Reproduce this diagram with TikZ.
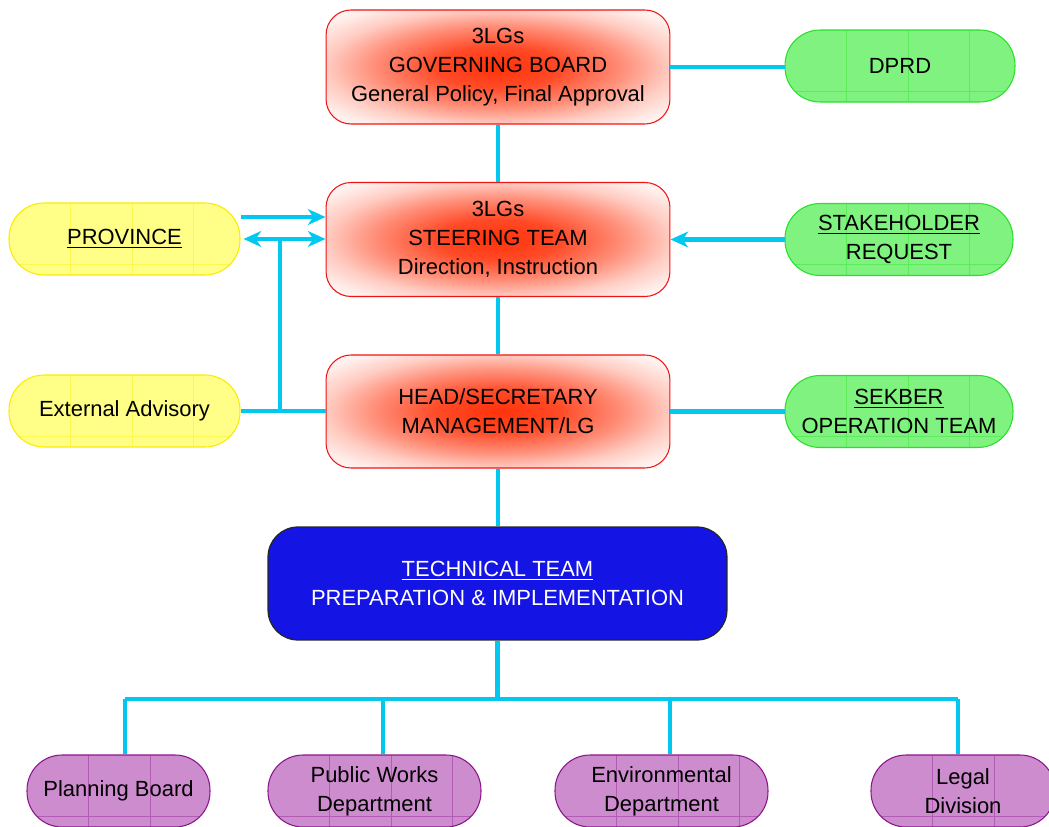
\documentclass[tikz,border=0pt]{standalone}
\usepackage{fontspec}
\setmainfont{Liberation Sans}
\usetikzlibrary{arrows.meta}

% palette
\definecolor{glowc}{RGB}{255,50,10}
\definecolor{redline}{RGB}{240,20,20}
\definecolor{linkc}{RGB}{0,200,240}
\definecolor{ybd}{RGB}{250,235,0}
\definecolor{yfill}{RGB}{255,255,135}
\definecolor{gbd}{RGB}{40,225,40}
\definecolor{gfill}{RGB}{128,242,128}
\definecolor{pbd}{RGB}{140,20,140}
\definecolor{pfill}{RGB}{205,140,205}
\definecolor{bfill}{RGB}{20,20,228}

% soft red glow for the management boxes
\pgfdeclareradialshading{glow}{\pgfpoint{0bp}{0bp}}{%
  color(0bp)=(glowc); color(9bp)=(glowc!88!white); color(18bp)=(glowc!55!white);
  color(25bp)=(glowc!25!white); color(31bp)=(glowc!8!white); color(37bp)=(white); color(50bp)=(white)}

\tikzset{
  redbox/.style={draw=redline, line width=0.6pt, shade, shading=glow,
    rounded corners=0.5cm, minimum width=6.88cm, minimum height=2.28cm,
    align=center, inner sep=0pt},
  pill/.style 2 args={draw=#1, fill=#2, line width=0.6pt, rounded corners=0.7cm,
    minimum height=1.44cm, align=center, inner sep=0pt,
    path picture={
      \foreach \k in {1,2,3,4}{
        \draw[#1!40!#2, line width=0.4pt]
          ([xshift=\k*1.23cm]path picture bounding box.south west) --
          ([xshift=\k*1.23cm]path picture bounding box.north west);}
      \draw[#1!40!#2, line width=0.4pt]
        ([yshift=0.22cm]path picture bounding box.south west) --
        ([yshift=0.22cm]path picture bounding box.south east);}},
  ybox/.style={pill={ybd}{yfill}},
  gbox/.style={pill={gbd}{gfill}},
  pbox/.style={pill={pbd}{pfill}},
  techbox/.style={draw=black!85, fill=bfill, line width=0.7pt, rounded corners=0.6cm,
    minimum width=9.18cm, minimum height=2.26cm, align=center, inner sep=0pt,
    text=white},
  conn/.style={draw=linkc, line width=2.4pt},
  tip/.tip={Stealth[length=10pt,width=9pt,inset=3pt]},
}

\begin{document}
\begin{tikzpicture}[x=0.02cm, y=-0.02cm, font=\fontsize{12.5}{16.4}\selectfont]
\useasboundingbox (0,0) rectangle (1049,827);

% management chain
\node[redbox] (gb) at (498,67) {3LGs\\GOVERNING BOARD\\General Policy, Final Approval};
\node[redbox] (st) at (498,239.5) {3LGs\\STEERING TEAM\\Direction, Instruction};
\node[redbox, minimum height=2.26cm] (hd) at (498,411.5) {HEAD/SECRETARY\\MANAGEMENT/LG};
\node[techbox] (tt) at (497.5,583.5) {\underline{TECHNICAL TEAM}\\PREPARATION \& IMPLEMENTATION};

% side partners
\node[gbox, minimum width=4.6cm] (dp) at (900,66) {DPRD};
\node[ybox, minimum width=4.62cm] (pv) at (124.5,239) {\underline{PROVINCE}};
\node[gbox, minimum width=4.56cm] (sk) at (899,239.5) {\underline{STAKEHOLDER}\\REQUEST};
\node[ybox, minimum width=4.62cm] (ea) at (124.5,411) {External Advisory};
\node[gbox, minimum width=4.56cm] (sb) at (899,411.5) {\underline{SEKBER}\\OPERATION TEAM};

% line departments
\node[pbox, minimum width=3.66cm] (pb) at (118.5,791) {Planning Board};
\node[pbox, minimum width=4.26cm] (pw) at (374.5,791) {Public Works\\Department};
\node[pbox, minimum width=4.26cm] (ed) at (661.5,791) {Environmental\\Department};
\node[pbox, minimum width=3.68cm] (ld) at (963,791) {Legal\\Division};

% vertical chain
\draw[conn] (gb.south) -- (st.north);
\draw[conn] (st.south) -- (hd.north);
\draw[conn] (hd.south) -- (hd.south |- tt.north);
\draw[conn] (gb.east) -- (gb.east -| dp.west);

% province links
\draw[conn, -tip] ([yshift=0.44cm]pv.east) -- ([yshift=0.44cm]pv.east -| st.west);
\draw[conn, tip-tip] ([xshift=0.06cm]pv.east) -- (pv.east -| st.west);
\coordinate (jn) at (280,239);
\draw[conn] (jn) -- (jn |- ea.east);
\draw[conn] (ea.east) -- (ea.east -| hd.west);

% right-hand links
\draw[conn, -tip] (sk.west) -- (sk.west -| st.east);
\draw[conn] (hd.east) -- (hd.east -| sb.west);

% distribution bus to departments
\coordinate (bus) at (498,699);
\coordinate (b1) at (125,699);
\coordinate (b2) at (383,699);
\coordinate (b3) at (670,699);
\coordinate (b4) at (958,699);
\draw[conn] (tt.south) -- (tt.south |- bus);
\draw[conn] (b1) -- (b4);
\draw[conn] (b1) -- (b1 |- pb.north);
\draw[conn] (b2) -- (b2 |- pw.north);
\draw[conn] (b3) -- (b3 |- ed.north);
\draw[conn] (b4) -- (b4 |- ld.north);
\end{tikzpicture}
\end{document}
